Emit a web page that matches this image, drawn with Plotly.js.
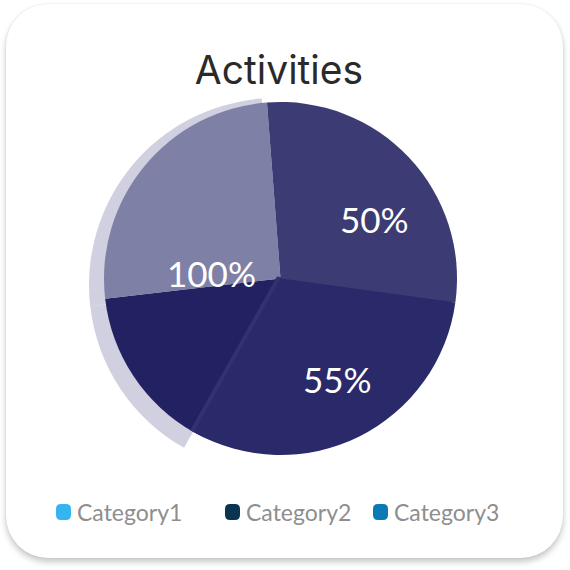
<!DOCTYPE html>
<html>
<head>
<meta charset="utf-8">
<script src="https://cdn.plot.ly/plotly-3.0.1.min.js"></script>
<style>
  html, body { margin:0; padding:0; background:#ffffff; width:570px; height:570px; overflow:hidden; }
  #card { position:absolute; left:6px; top:4px; width:557px; height:554px; border-radius:42px;
          background:#ffffff; box-shadow: 0 4px 6px rgba(0,0,0,0.22), 0 0 2px rgba(0,0,0,0.10); }
  #chart { position:absolute; left:0; top:0; width:570px; height:570px; }
</style>
</head>
<body>
<div id="card"></div>
<div id="chart"></div>
<script>
// ---- data ----
const sliceNames = ["A", "B", "C", "D"];
const sliceValues = [28.4, 31.0, 15.0, 25.6];
const sliceColors = ["#3c3b74", "#2a2a6a", "#222262", "#7f80a6"];
const shadowColors = ["rgba(0,0,0,0)", "rgba(0,0,0,0)", "#d1d0e0", "#d1d0e0"];
const bandColors = ["rgba(0,0,0,0)", "#32326e", "rgba(0,0,0,0)", "rgba(0,0,0,0)"];
const sliceLabels = ["50%", "55%", "", "100%"];
const labelPos = [[374, 219], [337, 379], null, [211, 273]];
const legendNames = ["Category1", "Category2", "Category3"];
const legendColors = ["#35b5ef", "#0a3550", "#0a7ab5"];
const legendX = [56, 225, 373];

const W = 570, H = 570;
const px = x => x / W;
const py = y => 1 - y / H;
const T = "rgba(0,0,0,0)";

function domainFor(cx, cy, r) {
  return { x: [px(cx - r), px(cx + r)], y: [py(cy + r), py(cy - r)] };
}
function pieTrace(colors, dom) {
  return {
    type: "pie", values: sliceValues, labels: sliceNames, sort: false, direction: "clockwise",
    rotation: -4.4, textinfo: "none", hoverinfo: "skip", showlegend: false,
    marker: { colors: colors, line: { width: 0 } }, domain: dom
  };
}
const mainDom = domainFor(280.5, 278.5, 176.5);
const shadow = pieTrace(shadowColors, domainFor(276, 285, 187));
const mainCD = pieTrace([T, T, sliceColors[2], sliceColors[3]], mainDom);
const band = pieTrace(bandColors, domainFor(277.0, 276.5, 176.5));
const mainAB = pieTrace([sliceColors[0], sliceColors[1], T, T], mainDom);

const annotations = [];
sliceLabels.forEach((t, i) => {
  if (!t) return;
  annotations.push({ text: t, x: px(labelPos[i][0]), y: py(labelPos[i][1]), xref: "paper", yref: "paper",
    xanchor: "center", yanchor: "middle", showarrow: false,
    font: { family: "Lato, sans-serif", size: 35, color: "#ffffff" } });
});

const shapes = [];
function roundRect(x0, y0, x1, y1, r) {
  const X = v => px(v), Y = v => py(v);
  return `M ${X(x0 + r)} ${Y(y0)} L ${X(x1 - r)} ${Y(y0)} Q ${X(x1)} ${Y(y0)} ${X(x1)} ${Y(y0 + r)} ` +
         `L ${X(x1)} ${Y(y1 - r)} Q ${X(x1)} ${Y(y1)} ${X(x1 - r)} ${Y(y1)} L ${X(x0 + r)} ${Y(y1)} ` +
         `Q ${X(x0)} ${Y(y1)} ${X(x0)} ${Y(y1 - r)} L ${X(x0)} ${Y(y0 + r)} Q ${X(x0)} ${Y(y0)} ${X(x0 + r)} ${Y(y0)} Z`;
}
legendNames.forEach((n, i) => {
  const x0 = legendX[i];
  shapes.push({ type: "path", xref: "paper", yref: "paper", path: roundRect(x0, 504, x0 + 15, 520, 5),
    fillcolor: legendColors[i], line: { width: 0 } });
  annotations.push({ text: n, x: px(x0 + 19), y: py(512), xref: "paper", yref: "paper",
    xanchor: "left", yanchor: "middle", showarrow: false,
    font: { family: "Lato, sans-serif", size: 23, color: "#8e8e8e" } });
});

const layout = {
  width: W, height: H,
  margin: { l: 0, r: 0, t: 0, b: 0 },
  paper_bgcolor: "rgba(0,0,0,0)", plot_bgcolor: "rgba(0,0,0,0)",
  showlegend: false,
  title: { text: "Activities", x: px(279), xanchor: "center", y: py(70), yanchor: "middle",
           font: { family: "Inter, sans-serif", size: 39, color: "#2a2a2a" } },
  annotations: annotations,
  shapes: shapes
};

Plotly.newPlot("chart", [shadow, mainCD, band, mainAB], layout, { displayModeBar: false, staticPlot: true });
</script>
</body>
</html>
